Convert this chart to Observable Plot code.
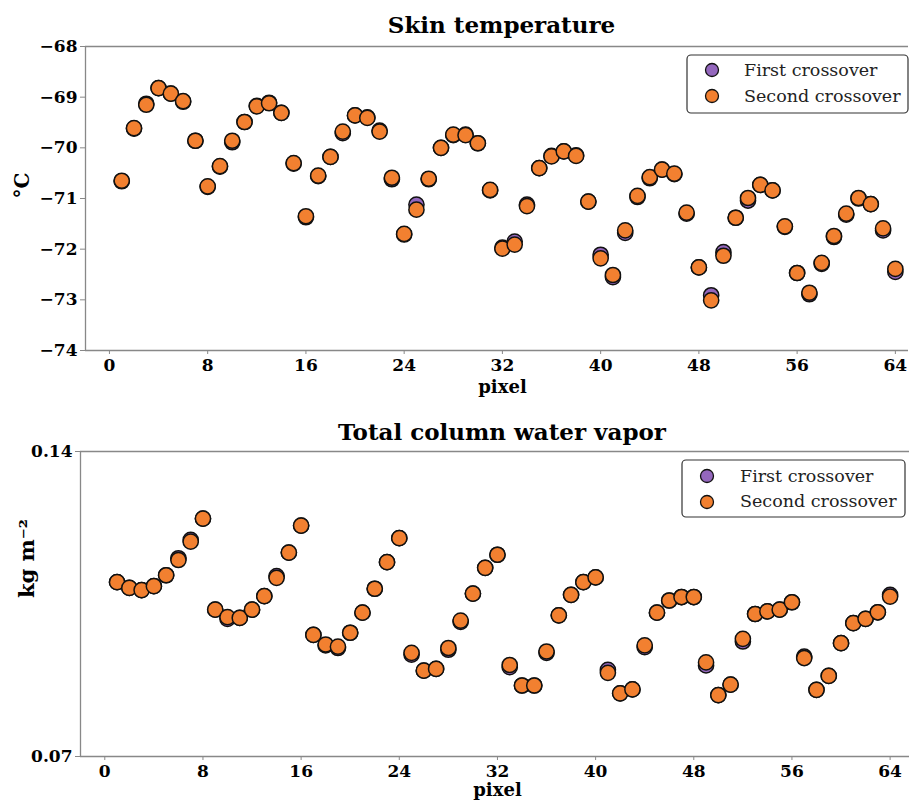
<!DOCTYPE html>
<html>
<head>
<meta charset="utf-8">
<script src="https://cdn.jsdelivr.net/npm/d3@7"></script>
<script src="https://cdn.jsdelivr.net/npm/@observablehq/plot@0.6"></script>
<style>
  html, body { margin: 0; padding: 0; background: white; }
  #chart { width: 909px; }
  #chart svg { display: block; }
</style>
</head>
<body>
<div id="chart"></div>
<script>
const pixels = [1,2,3,4,5,6,7,8,9,10,11,12,13,14,15,16,17,18,19,20,21,22,23,24,25,26,27,28,29,30,31,32,
  33,34,35,36,37,38,39,40,41,42,43,44,45,46,47,48,49,50,51,52,53,54,55,56,57,58,59,60,61,62,63,64];

const skinFirst = [-70.66,-69.62,-69.13,-68.82,-68.93,-69.09,-69.86,-70.77,-70.37,-69.89,-69.49,-69.17,-69.11,-69.31,-70.31,-71.37,
  -70.56,-70.18,-69.71,-69.36,-69.40,-69.66,-70.62,-71.71,-71.12,-70.62,-70.00,-69.75,-69.74,-69.91,-70.84,-71.97,
  -71.85,-71.12,-70.40,-70.16,-70.07,-70.15,-71.06,-72.11,-72.55,-71.68,-70.97,-70.60,-70.43,-70.52,-71.30,-72.36,
  -72.91,-72.06,-71.38,-71.04,-70.73,-70.84,-71.56,-72.47,-72.89,-72.29,-71.76,-71.32,-71.00,-71.11,-71.63,-72.45];
const skinSecond = [-70.65,-69.61,-69.15,-68.82,-68.93,-69.08,-69.86,-70.76,-70.36,-69.86,-69.49,-69.18,-69.12,-69.31,-70.30,-71.35,
  -70.55,-70.18,-69.68,-69.36,-69.41,-69.68,-70.59,-71.70,-71.22,-70.61,-70.00,-69.74,-69.75,-69.91,-70.83,-71.99,
  -71.91,-71.15,-70.40,-70.17,-70.07,-70.16,-71.06,-72.18,-72.51,-71.63,-70.95,-70.58,-70.43,-70.51,-71.28,-72.36,
  -73.01,-72.13,-71.38,-70.99,-70.73,-70.84,-71.55,-72.47,-72.86,-72.27,-71.74,-71.30,-70.99,-71.11,-71.59,-72.39];

const tcwvFirst = [0.1100,0.1087,0.1082,0.1091,0.1116,0.1155,0.1197,0.1246,0.1037,0.1016,0.1018,0.1037,0.1068,0.1114,0.1168,0.1230,
  0.0979,0.0955,0.0949,0.0984,0.1030,0.1085,0.1146,0.1201,0.0934,0.0897,0.0901,0.0945,0.1009,0.1074,0.1133,0.1163,
  0.0905,0.0863,0.0863,0.0938,0.1024,0.1071,0.1100,0.1111,0.0899,0.0845,0.0854,0.0951,0.1030,0.1058,0.1066,0.1066,
  0.0909,0.0841,0.0865,0.0964,0.1027,0.1033,0.1037,0.1054,0.0929,0.0853,0.0885,0.0960,0.1006,0.1016,0.1031,0.1071];
const tcwvSecond = [0.1100,0.1087,0.1082,0.1091,0.1116,0.1151,0.1193,0.1246,0.1037,0.1020,0.1018,0.1037,0.1068,0.1110,0.1168,0.1230,
  0.0979,0.0957,0.0952,0.0984,0.1030,0.1085,0.1146,0.1201,0.0938,0.0897,0.0901,0.0949,0.1012,0.1074,0.1133,0.1163,
  0.0910,0.0863,0.0863,0.0941,0.1024,0.1071,0.1100,0.1111,0.0892,0.0845,0.0854,0.0955,0.1030,0.1058,0.1066,0.1066,
  0.0916,0.0841,0.0865,0.0970,0.1027,0.1033,0.1037,0.1054,0.0926,0.0853,0.0885,0.0960,0.1006,0.1016,0.1031,0.1067];

const xTicks = [0, 8, 16, 24, 32, 40, 48, 56, 64];
const skinTicks = [-74, -73, -72, -71, -70, -69, -68];
const tcwvTicks = [0.07, 0.14];
const seriesNames = ["First crossover", "Second crossover"];
const seriesColors = ["#9467bd", "#f28030"];

const FONT = "DejaVu Serif";
const AXIS_GRAY = "#888";
const minusFmt = d => d < 0 ? "\u2212" + Math.abs(d) : String(d);

function makeTable(first, second) {
  const rows = [];
  pixels.forEach((p, i) => rows.push({pixel: p, value: first[i], series: seriesNames[0]}));
  pixels.forEach((p, i) => rows.push({pixel: p, value: second[i], series: seriesNames[1]}));
  return rows;
}

function addLegend(svg, box) {
  const g = d3.select(svg).append("g").attr("font-family", FONT).attr("text-anchor", "start");
  g.append("rect")
    .attr("x", box.x).attr("y", box.y).attr("width", box.w).attr("height", box.h)
    .attr("rx", 4).attr("fill", "white").attr("stroke", "#333").attr("stroke-width", 1.2);
  seriesNames.forEach((name, i) => {
    g.append("circle").attr("cx", box.mx).attr("cy", box.my[i]).attr("r", 6.5)
      .attr("fill", seriesColors[i]).attr("stroke", "#111").attr("stroke-width", 1.3);
    g.append("text").attr("x", box.tx).attr("y", box.ty[i]).attr("text-anchor", "start")
      .attr("font-size", 17.5).attr("font-weight", "normal").attr("fill", "#222").text(name);
  });
}

function panel(opts) {
  const data = makeTable(opts.first, opts.second);
  return Plot.plot({
    width: 909,
    height: opts.height,
    marginTop: opts.mt,
    marginBottom: opts.mb,
    marginLeft: opts.ml,
    marginRight: opts.mr,
    style: {fontFamily: FONT, fontSize: "17px", fontWeight: "bold", color: "black", background: "white", overflow: "visible"},
    x: {domain: opts.xDomain, ticks: xTicks},
    y: {domain: opts.yDomain, ticks: opts.yTicks},
    color: {domain: seriesNames, range: seriesColors},
    marks: [
      Plot.ruleY([opts.yDomain[0], opts.yDomain[1]], {stroke: AXIS_GRAY, strokeWidth: 1.3}),
      Plot.ruleX([opts.xDomain[0]], {stroke: AXIS_GRAY, strokeWidth: 1.3}),
      Plot.axisX({ticks: xTicks, tickSize: 4, tickPadding: 4, stroke: AXIS_GRAY, fill: "black", label: null, tickFormat: d => String(d)}),
      Plot.axisY({ticks: opts.yTicks, tickSize: 5, tickPadding: 3, stroke: AXIS_GRAY, fill: "black", label: null, tickFormat: opts.yFmt}),
      Plot.dot(data, {x: "pixel", y: "value", fill: "series", stroke: "#111", strokeWidth: 1.5, r: 7.6}),
      Plot.text([opts.title], {frameAnchor: "top", dx: opts.titleDx, dy: opts.titleDy, fontSize: 23, fontWeight: "bold", fill: "black", lineAnchor: "middle"}),
      Plot.text(["pixel"], {frameAnchor: "bottom", dx: opts.xlabDx, dy: opts.xlabDy, fontSize: 18, fontWeight: "bold", fill: "black", lineAnchor: "middle"}),
      Plot.text([opts.ylabel], {frameAnchor: "left", dx: opts.ylabDx, dy: opts.ylabDy, rotate: -90, fontSize: opts.ylabSize, fontWeight: "bold", fill: "black", lineAnchor: "middle"})
    ]
  });
}

const topChart = panel({
  height: 400, mt: 46, mb: 50, ml: 85, mr: 1,
  xDomain: [-1.95, 65.07], yDomain: [-74, -68], yTicks: skinTicks, yFmt: minusFmt,
  first: skinFirst, second: skinSecond,
  title: "Skin temperature", titleDx: 4.5, titleDy: -21,
  xlabDx: 5.5, xlabDy: 37,
  ylabel: "\u00B0C", ylabDx: -63, ylabDy: 0, ylabSize: 20
});
addLegend(topChart, {x: 687, y: 55, w: 221, h: 58, mx: 712, my: [70, 96], tx: 744, ty: [76, 102]});

const bottomChart = panel({
  height: 403, mt: 51, mb: 47, ml: 80, mr: 0,
  xDomain: [-1.98, 65.58], yDomain: [0.07, 0.14], yTicks: tcwvTicks, yFmt: d3.format(".2f"),
  first: tcwvFirst, second: tcwvSecond,
  title: "Total column water vapor", titleDx: 7, titleDy: -19,
  xlabDx: 2.5, xlabDy: 34,
  ylabel: "kg m\u207B\u00B2", ylabDx: -53, ylabDy: -6, ylabSize: 21
});
addLegend(bottomChart, {x: 682, y: 60, w: 223, h: 57, mx: 707, my: [76, 102], tx: 740, ty: [82, 107]});

document.getElementById("chart").append(topChart, bottomChart);
</script>
</body>
</html>
